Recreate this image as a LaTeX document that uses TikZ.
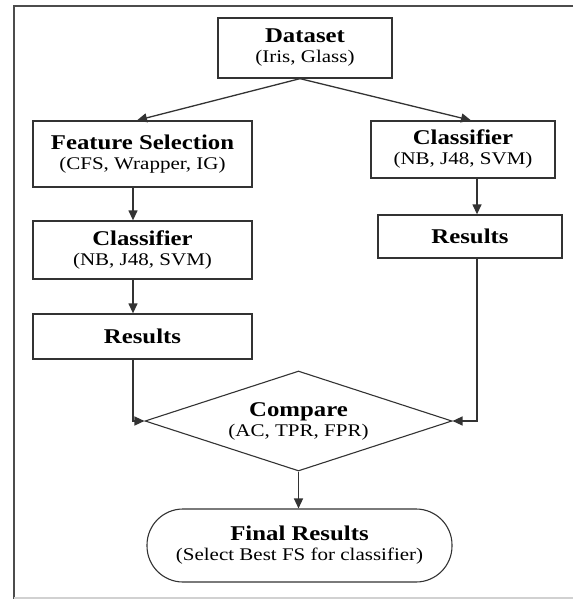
\documentclass[tikz,border=0pt]{standalone}
\usepackage{fontspec}
\setmainfont{Liberation Serif}[FakeStretch=1.18]
\usetikzlibrary{arrows.meta,shapes.geometric}
\definecolor{ln}{HTML}{333333}
\tikzset{
  box/.style={draw=ln,line width=1.3pt,fill=white,inner sep=0pt,align=center,
    font=\fontsize{17.8}{20}\selectfont},
  arr/.style={draw=ln,line width=1.3pt,-{Triangle[length=10pt,width=9pt]}},
  ttl/.style={},
}
\newcommand{\ttlf}[1]{{\bfseries\fontsize{21}{20}\selectfont #1}}
\begin{document}
\begin{tikzpicture}[x=1pt,y=-1pt]
\useasboundingbox (0,0) rectangle (573,599);
% frame
\draw[black!70,line width=1.8pt] (573,6) -- (14,6) -- (14,599);
\draw[black!18,line width=1.2pt] (14,598) -- (573,598);
% nodes
\node[box,minimum width=174pt,minimum height=60pt] (ds) at (305,48) {\ttlf{Dataset}\\(Iris, Glass)};
\node[box,minimum width=219pt,minimum height=66pt] (fs) at (142.5,154) {\ttlf{Feature Selection}\\(CFS, Wrapper, IG)};
\node[box,minimum width=219pt,minimum height=58pt] (cl) at (142.5,250) {\ttlf{Classifier}\\(NB, J48, SVM)};
\node[box,minimum width=219pt,minimum height=45pt] (rl) at (142.5,336.5) {\ttlf{Results}};
\node[box,minimum width=184pt,minimum height=57pt] (cr) at (463,149.5) {\ttlf{Classifier}\\(NB, J48, SVM)};
\node[box,minimum width=184pt,minimum height=43pt] (rr) at (470,236.5) {\ttlf{Results}};
\node[box,shape=diamond,line width=1.1pt,aspect=3,minimum width=307pt,minimum height=100pt] (cmp) at (298.5,421) {\ttlf{Compare}\\(AC, TPR, FPR)};
\node[box,line width=1.1pt,rounded corners=36pt,minimum width=305pt,minimum height=73pt] (fin) at (299.5,545.5) {\ttlf{Final Results}\\(Select Best FS for classifier)};
% connectors
\draw[arr] ([xshift=-5pt]ds.south) -- ([xshift=-5.5pt]fs.north);
\draw[arr] ([xshift=-5pt]ds.south) -- ([xshift=8pt]cr.north);
\draw[arr] ([xshift=-9.5pt]fs.south) -- ([xshift=-9.5pt]cl.north);
\draw[arr] ([xshift=-9.5pt]cl.south) -- ([xshift=-9.5pt]rl.north);
\draw[arr] ([xshift=14pt]cr.south) coordinate (a1) -- (a1 |- rr.north);
\draw[arr] ([xshift=-9.5pt]rl.south) |- (cmp.west);
\draw[arr] ([xshift=7pt]rr.south) |- (cmp.east);
\draw[arr] (cmp.south) -- (cmp.south |- fin.north);
\end{tikzpicture}
\end{document}
